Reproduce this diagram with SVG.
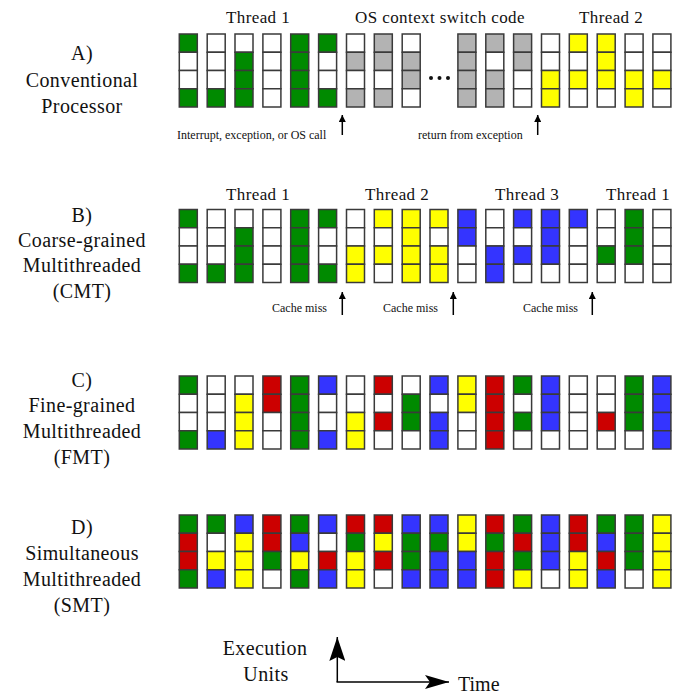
<svg xmlns="http://www.w3.org/2000/svg" width="677" height="697" viewBox="0 0 677 697">
<style>
text{font-family:"Liberation Serif","Times New Roman",serif;fill:#111}
.lbl{font-size:20px;text-anchor:middle;letter-spacing:0.4px}
.hd{font-size:17px;text-anchor:middle;letter-spacing:0.4px}
.sm{font-size:12px}
.col rect{stroke:#3a3a3a;stroke-width:1.5}
.g{fill:#008a00}.y{fill:#ffff00}.b{fill:#3434ff}.r{fill:#cc0000}.s{fill:#b3b3b3}.w{fill:#ffffff}
.ax{stroke:#000;stroke-width:1.5;fill:none}
</style>
<defs>
<marker id="ah" viewBox="0 0 10 10" refX="10" refY="5" markerWidth="7" markerHeight="7" markerUnits="userSpaceOnUse" orient="auto"><path d="M0,0 L10,5 L0,10 z" fill="#000"/></marker>
<marker id="big" viewBox="0 0 24 14" refX="24" refY="7" markerWidth="24" markerHeight="14" markerUnits="userSpaceOnUse" orient="auto"><path d="M0,0 L24,7 L0,14 L5,7 z" fill="#000"/></marker>
<marker id="bigv" viewBox="0 0 24 16" refX="24" refY="8" markerWidth="24" markerHeight="16" markerUnits="userSpaceOnUse" orient="auto"><path d="M0,0 L24,8 L0,16 L4,8 z" fill="#000"/></marker>
</defs>

<g id="labels">
<text class="lbl" x="82" y="60">A)</text>
<text class="lbl" x="82" y="87">Conventional</text>
<text class="lbl" x="82" y="113">Processor</text>
<text class="lbl" x="82" y="222">B)</text>
<text class="lbl" x="82" y="247">Coarse-grained</text>
<text class="lbl" x="82" y="272">Multithreaded</text>
<text class="lbl" x="82" y="298">(CMT)</text>
<text class="lbl" x="82" y="387">C)</text>
<text class="lbl" x="82" y="412">Fine-grained</text>
<text class="lbl" x="82" y="438">Multithreaded</text>
<text class="lbl" x="82" y="464">(FMT)</text>
<text class="lbl" x="82" y="534">D)</text>
<text class="lbl" x="82" y="560">Simultaneous</text>
<text class="lbl" x="82" y="586">Multithreaded</text>
<text class="lbl" x="82" y="612">(SMT)</text>
<text class="hd" x="258" y="23">Thread 1</text>
<text class="hd" x="440" y="23">OS context switch code</text>
<text class="hd" x="611" y="23">Thread 2</text>
<text class="hd" x="258" y="200">Thread 1</text>
<text class="hd" x="397" y="200">Thread 2</text>
<text class="hd" x="527" y="200">Thread 3</text>
<text class="hd" x="638" y="200">Thread 1</text>
<text class="sm" x="177" y="139">Interrupt, exception, or OS call</text>
<text class="sm" x="418" y="139">return from exception</text>
<text class="sm" x="272" y="312">Cache miss</text>
<text class="sm" x="383" y="312">Cache miss</text>
<text class="sm" x="523" y="312">Cache miss</text>
<text class="lbl" x="265" y="655">Execution</text>
<text class="lbl" x="266" y="681">Units</text>
<text style="font-size:20px" x="458" y="691">Time</text>
<g id="dots" fill="#111"><circle cx="431" cy="78" r="2"/><circle cx="439.5" cy="78" r="2"/><circle cx="448" cy="78" r="2"/></g>
</g>

<g id="rowA">
<g id="a0" class="col" transform="translate(179.3,34)"><rect width="18" height="18.25" y="0" class="g"/><rect width="18" height="18.25" y="18.25" class="w"/><rect width="18" height="18.25" y="36.5" class="w"/><rect width="18" height="18.25" y="54.75" class="g"/></g>
<g id="a1" class="col" transform="translate(207.2,34)"><rect width="18" height="18.25" y="0" class="w"/><rect width="18" height="18.25" y="18.25" class="w"/><rect width="18" height="18.25" y="36.5" class="w"/><rect width="18" height="18.25" y="54.75" class="g"/></g>
<g id="a2" class="col" transform="translate(235,34)"><rect width="18" height="18.25" y="0" class="w"/><rect width="18" height="18.25" y="18.25" class="g"/><rect width="18" height="18.25" y="36.5" class="g"/><rect width="18" height="18.25" y="54.75" class="g"/></g>
<g id="a3" class="col" transform="translate(262.9,34)"><rect width="18" height="18.25" y="0" class="w"/><rect width="18" height="18.25" y="18.25" class="w"/><rect width="18" height="18.25" y="36.5" class="w"/><rect width="18" height="18.25" y="54.75" class="w"/></g>
<g id="a4" class="col" transform="translate(290.7,34)"><rect width="18" height="18.25" y="0" class="g"/><rect width="18" height="18.25" y="18.25" class="g"/><rect width="18" height="18.25" y="36.5" class="g"/><rect width="18" height="18.25" y="54.75" class="g"/></g>
<g id="a5" class="col" transform="translate(318.6,34)"><rect width="18" height="18.25" y="0" class="g"/><rect width="18" height="18.25" y="18.25" class="w"/><rect width="18" height="18.25" y="36.5" class="w"/><rect width="18" height="18.25" y="54.75" class="g"/></g>
<g id="a6" class="col" transform="translate(346.5,34)"><rect width="18" height="18.25" y="0" class="w"/><rect width="18" height="18.25" y="18.25" class="s"/><rect width="18" height="18.25" y="36.5" class="w"/><rect width="18" height="18.25" y="54.75" class="s"/></g>
<g id="a7" class="col" transform="translate(374.3,34)"><rect width="18" height="18.25" y="0" class="s"/><rect width="18" height="18.25" y="18.25" class="s"/><rect width="18" height="18.25" y="36.5" class="w"/><rect width="18" height="18.25" y="54.75" class="s"/></g>
<g id="a8" class="col" transform="translate(402.2,34)"><rect width="18" height="18.25" y="0" class="w"/><rect width="18" height="18.25" y="18.25" class="s"/><rect width="18" height="18.25" y="36.5" class="s"/><rect width="18" height="18.25" y="54.75" class="w"/></g>
<g id="a10" class="col" transform="translate(457.9,34)"><rect width="18" height="18.25" y="0" class="s"/><rect width="18" height="18.25" y="18.25" class="s"/><rect width="18" height="18.25" y="36.5" class="s"/><rect width="18" height="18.25" y="54.75" class="s"/></g>
<g id="a11" class="col" transform="translate(485.8,34)"><rect width="18" height="18.25" y="0" class="s"/><rect width="18" height="18.25" y="18.25" class="w"/><rect width="18" height="18.25" y="36.5" class="s"/><rect width="18" height="18.25" y="54.75" class="s"/></g>
<g id="a12" class="col" transform="translate(513.6,34)"><rect width="18" height="18.25" y="0" class="s"/><rect width="18" height="18.25" y="18.25" class="s"/><rect width="18" height="18.25" y="36.5" class="w"/><rect width="18" height="18.25" y="54.75" class="w"/></g>
<g id="a13" class="col" transform="translate(541.5,34)"><rect width="18" height="18.25" y="0" class="w"/><rect width="18" height="18.25" y="18.25" class="w"/><rect width="18" height="18.25" y="36.5" class="y"/><rect width="18" height="18.25" y="54.75" class="y"/></g>
<g id="a14" class="col" transform="translate(569.3,34)"><rect width="18" height="18.25" y="0" class="y"/><rect width="18" height="18.25" y="18.25" class="w"/><rect width="18" height="18.25" y="36.5" class="y"/><rect width="18" height="18.25" y="54.75" class="w"/></g>
<g id="a15" class="col" transform="translate(597.2,34)"><rect width="18" height="18.25" y="0" class="y"/><rect width="18" height="18.25" y="18.25" class="y"/><rect width="18" height="18.25" y="36.5" class="y"/><rect width="18" height="18.25" y="54.75" class="w"/></g>
<g id="a16" class="col" transform="translate(625.1,34)"><rect width="18" height="18.25" y="0" class="w"/><rect width="18" height="18.25" y="18.25" class="w"/><rect width="18" height="18.25" y="36.5" class="y"/><rect width="18" height="18.25" y="54.75" class="y"/></g>
<g id="a17" class="col" transform="translate(652.9,34)"><rect width="18" height="18.25" y="0" class="w"/><rect width="18" height="18.25" y="18.25" class="w"/><rect width="18" height="18.25" y="36.5" class="y"/><rect width="18" height="18.25" y="54.75" class="w"/></g>
</g>

<g id="rowB">
<g id="b0" class="col" transform="translate(179.3,209.5)"><rect width="18" height="18.25" y="0" class="g"/><rect width="18" height="18.25" y="18.25" class="w"/><rect width="18" height="18.25" y="36.5" class="w"/><rect width="18" height="18.25" y="54.75" class="g"/></g>
<g id="b1" class="col" transform="translate(207.2,209.5)"><rect width="18" height="18.25" y="0" class="w"/><rect width="18" height="18.25" y="18.25" class="w"/><rect width="18" height="18.25" y="36.5" class="w"/><rect width="18" height="18.25" y="54.75" class="g"/></g>
<g id="b2" class="col" transform="translate(235,209.5)"><rect width="18" height="18.25" y="0" class="w"/><rect width="18" height="18.25" y="18.25" class="g"/><rect width="18" height="18.25" y="36.5" class="g"/><rect width="18" height="18.25" y="54.75" class="g"/></g>
<g id="b3" class="col" transform="translate(262.9,209.5)"><rect width="18" height="18.25" y="0" class="w"/><rect width="18" height="18.25" y="18.25" class="w"/><rect width="18" height="18.25" y="36.5" class="w"/><rect width="18" height="18.25" y="54.75" class="w"/></g>
<g id="b4" class="col" transform="translate(290.7,209.5)"><rect width="18" height="18.25" y="0" class="g"/><rect width="18" height="18.25" y="18.25" class="g"/><rect width="18" height="18.25" y="36.5" class="g"/><rect width="18" height="18.25" y="54.75" class="g"/></g>
<g id="b5" class="col" transform="translate(318.6,209.5)"><rect width="18" height="18.25" y="0" class="g"/><rect width="18" height="18.25" y="18.25" class="w"/><rect width="18" height="18.25" y="36.5" class="w"/><rect width="18" height="18.25" y="54.75" class="g"/></g>
<g id="b6" class="col" transform="translate(346.5,209.5)"><rect width="18" height="18.25" y="0" class="w"/><rect width="18" height="18.25" y="18.25" class="w"/><rect width="18" height="18.25" y="36.5" class="y"/><rect width="18" height="18.25" y="54.75" class="y"/></g>
<g id="b7" class="col" transform="translate(374.3,209.5)"><rect width="18" height="18.25" y="0" class="y"/><rect width="18" height="18.25" y="18.25" class="w"/><rect width="18" height="18.25" y="36.5" class="y"/><rect width="18" height="18.25" y="54.75" class="w"/></g>
<g id="b8" class="col" transform="translate(402.2,209.5)"><rect width="18" height="18.25" y="0" class="y"/><rect width="18" height="18.25" y="18.25" class="y"/><rect width="18" height="18.25" y="36.5" class="y"/><rect width="18" height="18.25" y="54.75" class="y"/></g>
<g id="b9" class="col" transform="translate(430,209.5)"><rect width="18" height="18.25" y="0" class="y"/><rect width="18" height="18.25" y="18.25" class="w"/><rect width="18" height="18.25" y="36.5" class="y"/><rect width="18" height="18.25" y="54.75" class="y"/></g>
<g id="b10" class="col" transform="translate(457.9,209.5)"><rect width="18" height="18.25" y="0" class="b"/><rect width="18" height="18.25" y="18.25" class="b"/><rect width="18" height="18.25" y="36.5" class="w"/><rect width="18" height="18.25" y="54.75" class="w"/></g>
<g id="b11" class="col" transform="translate(485.8,209.5)"><rect width="18" height="18.25" y="0" class="w"/><rect width="18" height="18.25" y="18.25" class="w"/><rect width="18" height="18.25" y="36.5" class="b"/><rect width="18" height="18.25" y="54.75" class="b"/></g>
<g id="b12" class="col" transform="translate(513.6,209.5)"><rect width="18" height="18.25" y="0" class="b"/><rect width="18" height="18.25" y="18.25" class="w"/><rect width="18" height="18.25" y="36.5" class="b"/><rect width="18" height="18.25" y="54.75" class="w"/></g>
<g id="b13" class="col" transform="translate(541.5,209.5)"><rect width="18" height="18.25" y="0" class="b"/><rect width="18" height="18.25" y="18.25" class="b"/><rect width="18" height="18.25" y="36.5" class="b"/><rect width="18" height="18.25" y="54.75" class="w"/></g>
<g id="b14" class="col" transform="translate(569.3,209.5)"><rect width="18" height="18.25" y="0" class="b"/><rect width="18" height="18.25" y="18.25" class="w"/><rect width="18" height="18.25" y="36.5" class="w"/><rect width="18" height="18.25" y="54.75" class="w"/></g>
<g id="b15" class="col" transform="translate(597.2,209.5)"><rect width="18" height="18.25" y="0" class="w"/><rect width="18" height="18.25" y="18.25" class="w"/><rect width="18" height="18.25" y="36.5" class="g"/><rect width="18" height="18.25" y="54.75" class="w"/></g>
<g id="b16" class="col" transform="translate(625.1,209.5)"><rect width="18" height="18.25" y="0" class="g"/><rect width="18" height="18.25" y="18.25" class="g"/><rect width="18" height="18.25" y="36.5" class="g"/><rect width="18" height="18.25" y="54.75" class="w"/></g>
<g id="b17" class="col" transform="translate(652.9,209.5)"><rect width="18" height="18.25" y="0" class="w"/><rect width="18" height="18.25" y="18.25" class="w"/><rect width="18" height="18.25" y="36.5" class="w"/><rect width="18" height="18.25" y="54.75" class="w"/></g>
</g>

<g id="rowC">
<g id="c0" class="col" transform="translate(179.3,376)"><rect width="18" height="18.25" y="0" class="g"/><rect width="18" height="18.25" y="18.25" class="w"/><rect width="18" height="18.25" y="36.5" class="w"/><rect width="18" height="18.25" y="54.75" class="g"/></g>
<g id="c1" class="col" transform="translate(207.2,376)"><rect width="18" height="18.25" y="0" class="w"/><rect width="18" height="18.25" y="18.25" class="w"/><rect width="18" height="18.25" y="36.5" class="w"/><rect width="18" height="18.25" y="54.75" class="b"/></g>
<g id="c2" class="col" transform="translate(235,376)"><rect width="18" height="18.25" y="0" class="w"/><rect width="18" height="18.25" y="18.25" class="y"/><rect width="18" height="18.25" y="36.5" class="y"/><rect width="18" height="18.25" y="54.75" class="y"/></g>
<g id="c3" class="col" transform="translate(262.9,376)"><rect width="18" height="18.25" y="0" class="r"/><rect width="18" height="18.25" y="18.25" class="r"/><rect width="18" height="18.25" y="36.5" class="w"/><rect width="18" height="18.25" y="54.75" class="w"/></g>
<g id="c4" class="col" transform="translate(290.7,376)"><rect width="18" height="18.25" y="0" class="g"/><rect width="18" height="18.25" y="18.25" class="g"/><rect width="18" height="18.25" y="36.5" class="g"/><rect width="18" height="18.25" y="54.75" class="g"/></g>
<g id="c5" class="col" transform="translate(318.6,376)"><rect width="18" height="18.25" y="0" class="b"/><rect width="18" height="18.25" y="18.25" class="w"/><rect width="18" height="18.25" y="36.5" class="w"/><rect width="18" height="18.25" y="54.75" class="b"/></g>
<g id="c6" class="col" transform="translate(346.5,376)"><rect width="18" height="18.25" y="0" class="w"/><rect width="18" height="18.25" y="18.25" class="w"/><rect width="18" height="18.25" y="36.5" class="y"/><rect width="18" height="18.25" y="54.75" class="y"/></g>
<g id="c7" class="col" transform="translate(374.3,376)"><rect width="18" height="18.25" y="0" class="r"/><rect width="18" height="18.25" y="18.25" class="w"/><rect width="18" height="18.25" y="36.5" class="r"/><rect width="18" height="18.25" y="54.75" class="w"/></g>
<g id="c8" class="col" transform="translate(402.2,376)"><rect width="18" height="18.25" y="0" class="w"/><rect width="18" height="18.25" y="18.25" class="g"/><rect width="18" height="18.25" y="36.5" class="g"/><rect width="18" height="18.25" y="54.75" class="w"/></g>
<g id="c9" class="col" transform="translate(430,376)"><rect width="18" height="18.25" y="0" class="b"/><rect width="18" height="18.25" y="18.25" class="w"/><rect width="18" height="18.25" y="36.5" class="b"/><rect width="18" height="18.25" y="54.75" class="b"/></g>
<g id="c10" class="col" transform="translate(457.9,376)"><rect width="18" height="18.25" y="0" class="y"/><rect width="18" height="18.25" y="18.25" class="y"/><rect width="18" height="18.25" y="36.5" class="w"/><rect width="18" height="18.25" y="54.75" class="w"/></g>
<g id="c11" class="col" transform="translate(485.8,376)"><rect width="18" height="18.25" y="0" class="r"/><rect width="18" height="18.25" y="18.25" class="r"/><rect width="18" height="18.25" y="36.5" class="r"/><rect width="18" height="18.25" y="54.75" class="r"/></g>
<g id="c12" class="col" transform="translate(513.6,376)"><rect width="18" height="18.25" y="0" class="g"/><rect width="18" height="18.25" y="18.25" class="w"/><rect width="18" height="18.25" y="36.5" class="g"/><rect width="18" height="18.25" y="54.75" class="w"/></g>
<g id="c13" class="col" transform="translate(541.5,376)"><rect width="18" height="18.25" y="0" class="b"/><rect width="18" height="18.25" y="18.25" class="b"/><rect width="18" height="18.25" y="36.5" class="b"/><rect width="18" height="18.25" y="54.75" class="w"/></g>
<g id="c14" class="col" transform="translate(569.3,376)"><rect width="18" height="18.25" y="0" class="w"/><rect width="18" height="18.25" y="18.25" class="w"/><rect width="18" height="18.25" y="36.5" class="w"/><rect width="18" height="18.25" y="54.75" class="w"/></g>
<g id="c15" class="col" transform="translate(597.2,376)"><rect width="18" height="18.25" y="0" class="w"/><rect width="18" height="18.25" y="18.25" class="w"/><rect width="18" height="18.25" y="36.5" class="r"/><rect width="18" height="18.25" y="54.75" class="w"/></g>
<g id="c16" class="col" transform="translate(625.1,376)"><rect width="18" height="18.25" y="0" class="g"/><rect width="18" height="18.25" y="18.25" class="g"/><rect width="18" height="18.25" y="36.5" class="g"/><rect width="18" height="18.25" y="54.75" class="w"/></g>
<g id="c17" class="col" transform="translate(652.9,376)"><rect width="18" height="18.25" y="0" class="b"/><rect width="18" height="18.25" y="18.25" class="b"/><rect width="18" height="18.25" y="36.5" class="b"/><rect width="18" height="18.25" y="54.75" class="b"/></g>
</g>

<g id="rowD">
<g id="d0" class="col" transform="translate(179.3,515)"><rect width="18" height="18.25" y="0" class="g"/><rect width="18" height="18.25" y="18.25" class="r"/><rect width="18" height="18.25" y="36.5" class="r"/><rect width="18" height="18.25" y="54.75" class="g"/></g>
<g id="d1" class="col" transform="translate(207.2,515)"><rect width="18" height="18.25" y="0" class="g"/><rect width="18" height="18.25" y="18.25" class="w"/><rect width="18" height="18.25" y="36.5" class="y"/><rect width="18" height="18.25" y="54.75" class="b"/></g>
<g id="d2" class="col" transform="translate(235,515)"><rect width="18" height="18.25" y="0" class="b"/><rect width="18" height="18.25" y="18.25" class="y"/><rect width="18" height="18.25" y="36.5" class="y"/><rect width="18" height="18.25" y="54.75" class="y"/></g>
<g id="d3" class="col" transform="translate(262.9,515)"><rect width="18" height="18.25" y="0" class="r"/><rect width="18" height="18.25" y="18.25" class="r"/><rect width="18" height="18.25" y="36.5" class="g"/><rect width="18" height="18.25" y="54.75" class="w"/></g>
<g id="d4" class="col" transform="translate(290.7,515)"><rect width="18" height="18.25" y="0" class="g"/><rect width="18" height="18.25" y="18.25" class="b"/><rect width="18" height="18.25" y="36.5" class="y"/><rect width="18" height="18.25" y="54.75" class="g"/></g>
<g id="d5" class="col" transform="translate(318.6,515)"><rect width="18" height="18.25" y="0" class="b"/><rect width="18" height="18.25" y="18.25" class="w"/><rect width="18" height="18.25" y="36.5" class="r"/><rect width="18" height="18.25" y="54.75" class="b"/></g>
<g id="d6" class="col" transform="translate(346.5,515)"><rect width="18" height="18.25" y="0" class="r"/><rect width="18" height="18.25" y="18.25" class="g"/><rect width="18" height="18.25" y="36.5" class="y"/><rect width="18" height="18.25" y="54.75" class="y"/></g>
<g id="d7" class="col" transform="translate(374.3,515)"><rect width="18" height="18.25" y="0" class="r"/><rect width="18" height="18.25" y="18.25" class="y"/><rect width="18" height="18.25" y="36.5" class="r"/><rect width="18" height="18.25" y="54.75" class="w"/></g>
<g id="d8" class="col" transform="translate(402.2,515)"><rect width="18" height="18.25" y="0" class="b"/><rect width="18" height="18.25" y="18.25" class="g"/><rect width="18" height="18.25" y="36.5" class="g"/><rect width="18" height="18.25" y="54.75" class="b"/></g>
<g id="d9" class="col" transform="translate(430,515)"><rect width="18" height="18.25" y="0" class="b"/><rect width="18" height="18.25" y="18.25" class="g"/><rect width="18" height="18.25" y="36.5" class="b"/><rect width="18" height="18.25" y="54.75" class="b"/></g>
<g id="d10" class="col" transform="translate(457.9,515)"><rect width="18" height="18.25" y="0" class="y"/><rect width="18" height="18.25" y="18.25" class="y"/><rect width="18" height="18.25" y="36.5" class="b"/><rect width="18" height="18.25" y="54.75" class="b"/></g>
<g id="d11" class="col" transform="translate(485.8,515)"><rect width="18" height="18.25" y="0" class="r"/><rect width="18" height="18.25" y="18.25" class="g"/><rect width="18" height="18.25" y="36.5" class="r"/><rect width="18" height="18.25" y="54.75" class="r"/></g>
<g id="d12" class="col" transform="translate(513.6,515)"><rect width="18" height="18.25" y="0" class="g"/><rect width="18" height="18.25" y="18.25" class="r"/><rect width="18" height="18.25" y="36.5" class="g"/><rect width="18" height="18.25" y="54.75" class="y"/></g>
<g id="d13" class="col" transform="translate(541.5,515)"><rect width="18" height="18.25" y="0" class="b"/><rect width="18" height="18.25" y="18.25" class="b"/><rect width="18" height="18.25" y="36.5" class="b"/><rect width="18" height="18.25" y="54.75" class="w"/></g>
<g id="d14" class="col" transform="translate(569.3,515)"><rect width="18" height="18.25" y="0" class="r"/><rect width="18" height="18.25" y="18.25" class="r"/><rect width="18" height="18.25" y="36.5" class="y"/><rect width="18" height="18.25" y="54.75" class="y"/></g>
<g id="d15" class="col" transform="translate(597.2,515)"><rect width="18" height="18.25" y="0" class="g"/><rect width="18" height="18.25" y="18.25" class="b"/><rect width="18" height="18.25" y="36.5" class="r"/><rect width="18" height="18.25" y="54.75" class="b"/></g>
<g id="d16" class="col" transform="translate(625.1,515)"><rect width="18" height="18.25" y="0" class="g"/><rect width="18" height="18.25" y="18.25" class="g"/><rect width="18" height="18.25" y="36.5" class="g"/><rect width="18" height="18.25" y="54.75" class="w"/></g>
<g id="d17" class="col" transform="translate(652.9,515)"><rect width="18" height="18.25" y="0" class="y"/><rect width="18" height="18.25" y="18.25" class="y"/><rect width="18" height="18.25" y="36.5" class="y"/><rect width="18" height="18.25" y="54.75" class="y"/></g>
</g>

<g id="connectors">
<line class="ax" x1="342.3" y1="135" x2="342.3" y2="115" marker-end="url(#ah)"/>
<line class="ax" x1="537.7" y1="135" x2="537.7" y2="115" marker-end="url(#ah)"/>
<line class="ax" x1="342.3" y1="315" x2="342.3" y2="292" marker-end="url(#ah)"/>
<line class="ax" x1="453.3" y1="315" x2="453.3" y2="292" marker-end="url(#ah)"/>
<line class="ax" x1="592.3" y1="315" x2="592.3" y2="292" marker-end="url(#ah)"/>
<line class="ax" x1="337.3" y1="682" x2="337.3" y2="637" marker-end="url(#bigv)"/>
<line class="ax" x1="336.5" y1="682" x2="449" y2="682" marker-end="url(#big)"/>
</g>
</svg>
